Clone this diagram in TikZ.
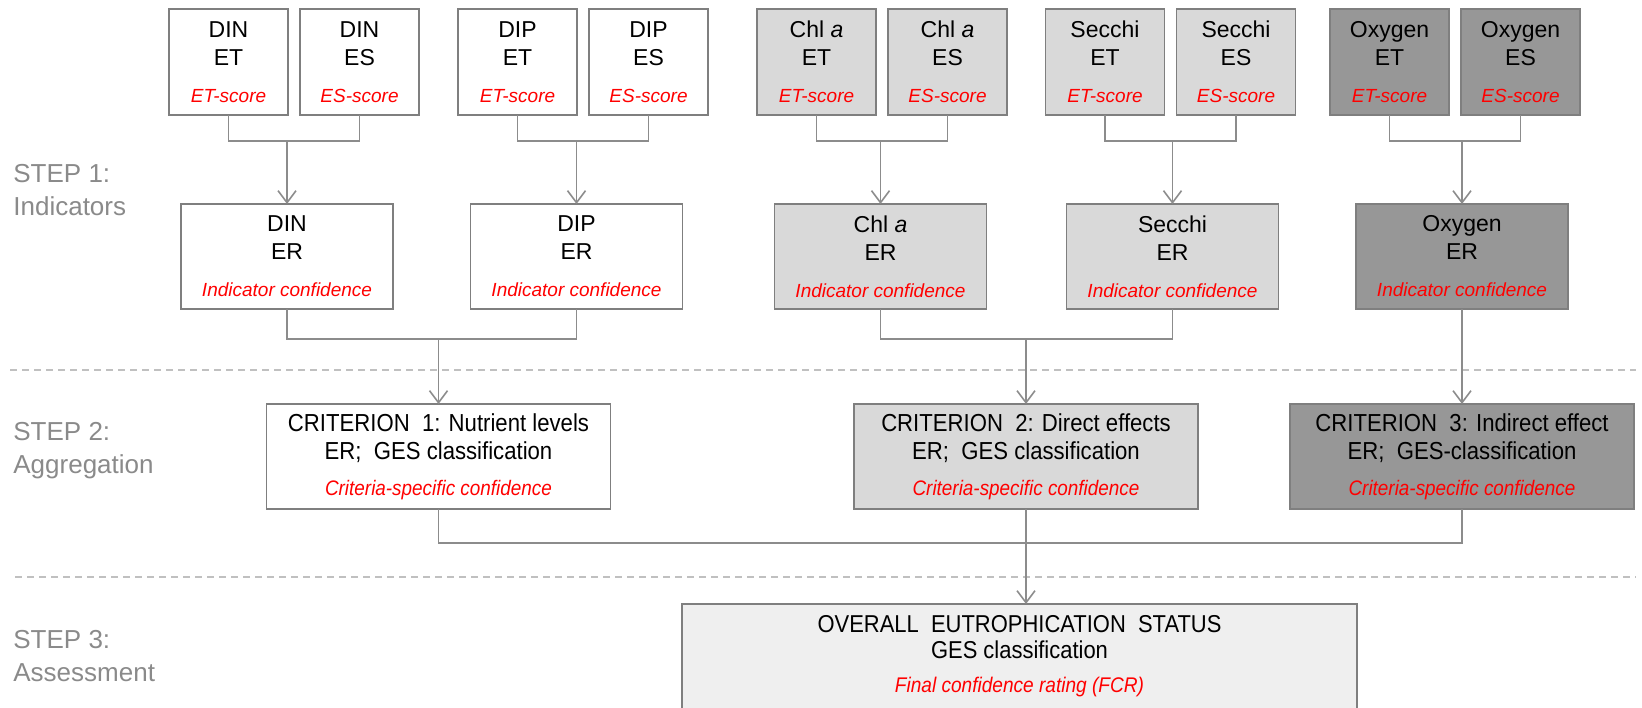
\documentclass[tikz,border=0pt]{standalone}
\usepackage{fontspec}
\setmainfont{Liberation Sans}
\newfontfamily\narrowfont[FakeStretch=0.9]{Liberation Sans}
\usetikzlibrary{arrows.meta,positioning}

\definecolor{boxline}{HTML}{7F7F7F}
\definecolor{linegray}{HTML}{8C8C8C}
\definecolor{dashgray}{HTML}{C0C0C0}
\definecolor{stepgray}{HTML}{8A8A8A}
\definecolor{lightfill}{HTML}{D9D9D9}
\definecolor{darkfill}{HTML}{979797}
\definecolor{palefill}{HTML}{EFEFEF}
\definecolor{confred}{HTML}{FF0000}

\newcommand{\conftxt}[1]{{\color{confred}\itshape\fontsize{9.5}{11}\selectfont #1}}

\begin{document}
\begin{tikzpicture}[
    x=0.5pt, y=-0.5pt,
    node distance=6pt,
    box/.style={rectangle, draw=boxline, line width=0.9pt, fill=white, inner sep=0pt, outer sep=0pt, align=center},
    score/.style={box, minimum width=59.5pt, minimum height=53pt, font=\fontsize{11.5}{14}\selectfont},
    ratio/.style={box, minimum width=106pt, minimum height=52.5pt, font=\fontsize{11.5}{14}\selectfont},
    crit/.style={box, minimum width=172pt, minimum height=52.5pt, font=\narrowfont\fontsize{12.3}{14}\selectfont},
    conn/.style={draw=linegray, line width=0.8pt},
    arr/.style={conn, -{Straight Barb[length=6pt, width=9pt]}},
    sep/.style={draw=dashgray, line width=0.7pt, dash pattern=on 3.5pt off 2.5pt},
    steplbl/.style={anchor=west, align=left, inner sep=0pt, text=stepgray, font=\fontsize{13}{16.5}\selectfont},
]
    \useasboundingbox (0,0) rectangle (1642,707);

    % separators between the steps
    \draw[sep] (10,370) -- (1636,370);
    \draw[sep] (15,577) -- (1636,577);

    \node[steplbl] (step1) at (13,190.5) {STEP 1:\\Indicators};
    \node[steplbl] (step2) at (13,450.5) {STEP 2:\\Aggregation};
    \node[steplbl] (step3) at (13,656.5) {STEP 3:\\Assessment};

    % step 1: ET and ES scores
    \node[score] (dinet) at (228.5,62) {DIN\\ET\\[4.5pt]\conftxt{ET-score}};
    \node[score, right=of dinet] (dines) {DIN\\ES\\[4.5pt]\conftxt{ES-score}};
    \node[score] (dipet) at (517.5,62) {DIP\\ET\\[4.5pt]\conftxt{ET-score}};
    \node[score, right=of dipet] (dipes) {DIP\\ES\\[4.5pt]\conftxt{ES-score}};
    \node[score, fill=lightfill] (chlet) at (816.5,62) {Chl \textit{a}\\ET\\[4.5pt]\conftxt{ET-score}};
    \node[score, fill=lightfill, right=of chlet] (chles) {Chl \textit{a}\\ES\\[4.5pt]\conftxt{ES-score}};
    \node[score, fill=lightfill] (secet) at (1105,62) {Secchi\\ET\\[4.5pt]\conftxt{ET-score}};
    \node[score, fill=lightfill, right=of secet] (seces) {Secchi\\ES\\[4.5pt]\conftxt{ES-score}};
    \node[score, fill=darkfill] (oxyet) at (1389.5,62) {Oxygen\\ET\\[4.5pt]\conftxt{ET-score}};
    \node[score, fill=darkfill, right=of oxyet] (oxyes) {Oxygen\\ES\\[4.5pt]\conftxt{ES-score}};

    % step 1: indicator ratios
    \node[ratio] (diner) at (287,256.5) {DIN\\ER\\[4.5pt]\conftxt{Indicator confidence}};
    \node[ratio] (diper) at (576.5,256.5) {DIP\\ER\\[4.5pt]\conftxt{Indicator confidence}};
    \node[ratio, fill=lightfill] (chler) at (880.5,256.5) {Chl \textit{a}\\ER\\[4.5pt]\conftxt{Indicator confidence}};
    \node[ratio, fill=lightfill] (secer) at (1172.5,256.5) {Secchi\\ER\\[4.5pt]\conftxt{Indicator confidence}};
    \node[ratio, fill=darkfill] (oxyer) at (1462,256.5) {Oxygen\\ER\\[4.5pt]\conftxt{Indicator confidence}};

    % step 2: criteria
    \node[crit] (crit1) at (438.5,456.5) {CRITERION~~1: Nutrient levels\\ER;~~GES classification\\[4pt]\conftxt{\narrowfont\fontsize{10.5}{11}\selectfont Criteria-specific confidence}};
    \node[crit, fill=lightfill] (crit2) at (1026,456.5) {CRITERION~~2: Direct effects\\ER;~~GES classification\\[4pt]\conftxt{\narrowfont\fontsize{10.5}{11}\selectfont Criteria-specific confidence}};
    \node[crit, fill=darkfill] (crit3) at (1462,456.5) {CRITERION~~3: Indirect effect\\ER;~~GES-classification\\[4pt]\conftxt{\narrowfont\fontsize{10.5}{11}\selectfont Criteria-specific confidence}};

    % step 3: overall status
    \node[box, fill=palefill, minimum width=337.5pt, minimum height=52.5pt, font=\narrowfont\fontsize{12.2}{13}\selectfont] (overall) at (1019.5,656.5)
        {OVERALL~~EUTROPHICATION~~STATUS\\GES classification\\[4pt]\conftxt{\narrowfont\fontsize{10.6}{11}\selectfont Final confidence rating (FCR)}};

    % scores into ratios
    \draw[conn] (dinet.south) -- ++(0,26) -| (dines.south);
    \draw[conn] (dipet.south) -- ++(0,26) -| (dipes.south);
    \draw[conn] (chlet.south) -- ++(0,26) -| (chles.south);
    \draw[conn] (secet.south) -- ++(0,26) -| (seces.south);
    \draw[conn] (oxyet.south) -- ++(0,26) -| (oxyes.south);
    \draw[arr] (diner.north) ++(0,-63) -- (diner.north);
    \draw[arr] (diper.north) ++(0,-63) -- (diper.north);
    \draw[arr] (chler.north) ++(0,-63) -- (chler.north);
    \draw[arr] (secer.north) ++(0,-63) -- (secer.north);
    \draw[arr] (oxyer.north) ++(0,-63) -- (oxyer.north);

    % ratios into criteria
    \draw[conn] (diner.south) -- ++(0,30) -| (diper.south);
    \draw[conn] (chler.south) -- ++(0,30) -| (secer.south);
    \draw[arr] (crit1.north) ++(0,-65) -- (crit1.north);
    \draw[arr] (crit2.north) ++(0,-65) -- (crit2.north);
    \draw[arr] (oxyer.south) -- (crit3.north);

    % criteria into overall status
    \draw[conn] (crit1.south) -- ++(0,34) -| (crit3.south);
    \draw[arr] (crit2.south) -- (crit2.south |- overall.north);
\end{tikzpicture}
\end{document}
